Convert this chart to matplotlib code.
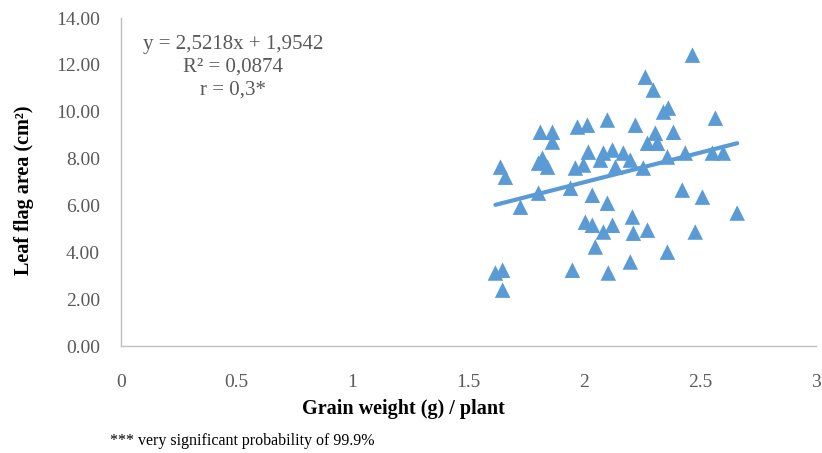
import numpy as np
import matplotlib
matplotlib.use("Agg")
import matplotlib.pyplot as plt

# grain weight (g) / plant
grain_weight = [
    1.616, 1.647, 1.647, 1.638, 1.659, 1.724, 1.802, 1.802, 1.819, 1.841,
    1.810, 1.862, 1.862, 1.940, 1.948, 1.961, 1.970, 2.013, 1.996, 2.017,
    2.004, 2.034, 2.034, 2.047, 2.069, 2.082, 2.099, 2.099, 2.082, 2.103,
    2.121, 2.121, 2.134, 2.168, 2.198, 2.207, 2.198, 2.211, 2.220, 2.254,
    2.272, 2.263, 2.272, 2.297, 2.306, 2.315, 2.341, 2.362, 2.358, 2.358,
    2.384, 2.435, 2.422, 2.466, 2.478, 2.509, 2.565, 2.552, 2.599, 2.659,
]
# leaf flag area (cm2)
leaf_area = [
    3.12, 3.24, 2.39, 7.64, 7.21, 5.93, 6.53, 7.81, 8.02, 7.64,
    9.13, 9.13, 8.71, 6.74, 3.24, 7.60, 9.35, 9.43, 7.73, 8.28,
    5.29, 5.16, 6.44, 4.23, 7.94, 4.87, 9.65, 6.10, 8.24, 3.12,
    5.16, 8.37, 7.64, 8.24, 7.94, 5.51, 3.59, 4.82, 9.43, 7.60,
    4.95, 11.48, 8.66, 10.93, 9.09, 8.66, 9.99, 10.16, 8.07, 4.01,
    9.13, 8.24, 6.66, 12.42, 4.87, 6.36, 9.73, 8.24, 8.24, 5.68,
]

slope = 2.5218
intercept = 1.9542

x_ticks = [0, 0.5, 1, 1.5, 2, 2.5, 3]
x_tick_labels = ["0", "0.5", "1", "1.5", "2", "2.5", "3"]
y_ticks = [0, 2, 4, 6, 8, 10, 12, 14]

blue = "#5B9BD5"
grey = "#595959"
serif = "Liberation Serif"

fig = plt.figure(figsize=(8.22, 4.53), dpi=100)
ax = fig.add_axes([0.147, 0.236, 0.846, 0.724])

ax.scatter(grain_weight, leaf_area, marker="^", s=125, color=blue,
           edgecolors="none", zorder=3)

# trend line over the data range
x_line = np.array([min(grain_weight), max(grain_weight)])
ax.plot(x_line, slope * x_line + intercept, color=blue, linewidth=3,
        solid_capstyle="round", zorder=2)

ax.set_xlim(0, 3)
ax.set_ylim(0, 14)
ax.set_xticks(x_ticks)
ax.set_xticklabels(x_tick_labels)
ax.set_yticks(y_ticks)
ax.set_yticklabels([f"{v:.2f}" for v in y_ticks])

for side in ["top", "right"]:
    ax.spines[side].set_visible(False)
for side in ["left", "bottom"]:
    ax.spines[side].set_color("#BFBFBF")
    ax.spines[side].set_linewidth(1)

ax.tick_params(length=0, labelsize=14, labelcolor=grey)
ax.tick_params(axis="x", pad=20)
ax.tick_params(axis="y", pad=15)
for lbl in ax.get_xticklabels() + ax.get_yticklabels():
    lbl.set_family(serif)

# axis titles placed like the original
fig.text(403 / 822, 1 - 409 / 453, "Grain weight (g) / plant", fontsize=14.5,
         fontweight="bold", family=serif, ha="center", va="center")
fig.text(24 / 822, 1 - 190 / 453, "Leaf flag area (cm²)", fontsize=14.5,
         fontweight="bold", family=serif, ha="center", va="center",
         rotation=90)

ax.text(0.162, 0.95, "y = 2,5218x + 1,9542\nR² = 0,0874\nr = 0,3*",
        transform=ax.transAxes, ha="center", va="top", fontsize=15,
        color=grey, family=serif, linespacing=1.28)

fig.text(0.134, 1 - 441 / 453, "*** very significant probability of 99.9%",
         fontsize=11.5, family=serif, color="black", va="center")

fig.savefig("out.png", dpi=100)
